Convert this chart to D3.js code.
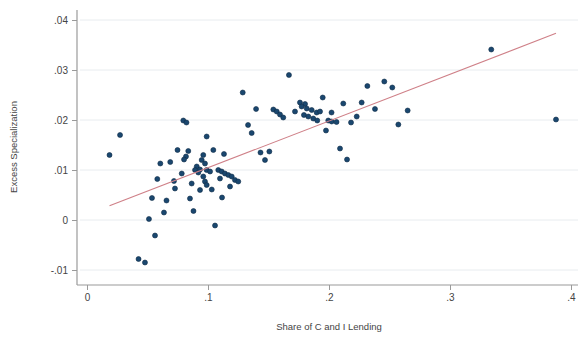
<!DOCTYPE html>
<html>
<head>
<meta charset="utf-8">
<script src="https://cdn.jsdelivr.net/npm/d3@7"></script>
<style>
  body { margin: 0; background: #fff; }
  svg text { font-family: "Liberation Sans", Arial, sans-serif; fill: #444; }
</style>
</head>
<body>
<div class="chart"></div>
<script>
// share of C and I lending (x) and excess specialization (y)
const share = [0.0186, 0.0273, 0.0426, 0.0479, 0.0562, 0.0512, 0.0636, 0.0537, 0.0657, 0.0581,
  0.0606, 0.0688, 0.0719, 0.0727, 0.0748, 0.0796, 0.0822, 0.0837, 0.0818, 0.0802,
  0.0783, 0.0865, 0.0851, 0.0880, 0.0907, 0.0893, 0.0934, 0.0920, 0.0948, 0.0975,
  0.0961, 0.0989, 0.0989, 0.1017, 0.0961, 0.0975, 0.0989, 0.0934, 0.1031, 0.1044,
  0.1132, 0.1085, 0.1113, 0.1140, 0.1168, 0.1196, 0.1223, 0.1250, 0.1099, 0.1182,
  0.1116, 0.1058, 0.1287, 0.1397, 0.1331, 0.1361, 0.1434, 0.1507, 0.1471, 0.1669,
  0.1540, 0.1568, 0.1595, 0.1622, 0.1760, 0.1802, 0.1774, 0.1816, 0.1857, 0.1898,
  0.1926, 0.1719, 0.1793, 0.1829, 0.1870, 0.1903, 0.1948, 0.2021, 0.1994, 0.2022,
  0.2062, 0.1975, 0.2091, 0.2149, 0.2118, 0.2317, 0.2457, 0.2523, 0.2270, 0.2380,
  0.2650, 0.2229, 0.2182, 0.2573, 0.3341, 0.3876];
const excess = [0.0130, 0.0170, -0.0078, -0.0085, -0.0031, 0.0002, 0.0015, 0.0044, 0.0039, 0.0082,
  0.0113, 0.0116, 0.0078, 0.0063, 0.0140, 0.0199, 0.0195, 0.0138, 0.0127, 0.0121,
  0.0093, 0.0073, 0.0043, 0.0018, 0.0107, 0.0100, 0.0101, 0.0095, 0.0120, 0.0113,
  0.0130, 0.0167, 0.0100, 0.0097, 0.0087, 0.0077, 0.0070, 0.0060, 0.0061, 0.0140,
  0.0132, 0.0100, 0.0097, 0.0093, 0.0090, 0.0087, 0.0080, 0.0077, 0.0083, 0.0067,
  0.0045, -0.0011, 0.0255, 0.0222, 0.0190, 0.0174, 0.0135, 0.0137, 0.0120, 0.0290,
  0.0221, 0.0217, 0.0211, 0.0205, 0.0235, 0.0232, 0.0227, 0.0223, 0.0220, 0.0215,
  0.0217, 0.0217, 0.0210, 0.0207, 0.0203, 0.0199, 0.0245, 0.0215, 0.0199, 0.0197,
  0.0196, 0.0179, 0.0143, 0.0121, 0.0233, 0.0268, 0.0277, 0.0265, 0.0235, 0.0222,
  0.0219, 0.0207, 0.0195, 0.0191, 0.0341, 0.0201];

// linear fit as shown in the picture (intercept, slope)
const fitIntercept = 0.0011;
const fitSlope = 0.0935;

const xTicks = [0, 0.1, 0.2, 0.3, 0.4];
const xTickLabels = ["0", ".1", ".2", ".3", ".4"];
const yTicks = [-0.01, 0, 0.01, 0.02, 0.03, 0.04];
const yTickLabels = ["-.01", "0", ".01", ".02", ".03", ".04"];

const data = share.map((s, i) => ({x: s, y: excess[i]}));

const width = 578;
const height = 337;
const svg = d3.select('.chart')
  .append('svg')
  .attr('width', width)
  .attr('height', height);

const x = d3.scaleLinear().domain([0, 0.4]).range([87, 571]);
const y = d3.scaleLinear().domain([-0.01, 0.04]).range([270, 20]);

// gridlines
svg.selectAll("line.grid")
  .data(yTicks)
  .enter()
  .append("line")
  .attr("x1", 80)
  .attr("x2", 578)
  .attr("y1", d => y(d))
  .attr("y2", d => y(d))
  .attr("stroke", "#e8ecef")
  .attr("stroke-width", 1);

// axes
const yAxis = d3.axisLeft(y)
  .tickValues(yTicks)
  .tickFormat((d, i) => yTickLabels[i])
  .tickSize(5)
  .tickPadding(4);
const xAxis = d3.axisBottom(x)
  .tickValues(xTicks)
  .tickFormat((d, i) => xTickLabels[i])
  .tickSize(5)
  .tickPadding(4);

const gy = svg.append("g").attr("transform", "translate(77,0)").call(yAxis);
const gx = svg.append("g").attr("transform", "translate(0,285)").call(xAxis);
gy.select(".domain").attr("d", "M0,10V285");
gx.select(".domain").attr("d", "M77,0H578");
svg.selectAll(".domain").attr("stroke", "#9a9a9a").attr("stroke-width", 1.2);
svg.selectAll(".tick line").attr("stroke", "#9a9a9a");
svg.selectAll(".tick text").attr("font-size", 10).attr("fill", "#444")
  .attr("font-family", '"Liberation Sans", Arial, sans-serif');

const ext = d3.extent(data, d => d.x);

svg.selectAll("circle")
  .data(data)
  .enter()
  .append("circle")
  .attr("cx", d => x(d.x))
  .attr("cy", d => y(d.y))
  .attr("r", 2.5)
  .attr("fill", "#1a476f")
  .attr("stroke", "#0f2c47")
  .attr("stroke-width", 0.6);

svg.append("line")
  .attr("x1", x(ext[0]))
  .attr("y1", y(fitIntercept + fitSlope * ext[0]))
  .attr("x2", x(ext[1]))
  .attr("y2", y(fitIntercept + fitSlope * ext[1]))
  .attr("stroke", "#cf8088")
  .attr("stroke-width", 1.1);

// titles
svg.append("text")
  .text("Excess Specialization")
  .attr("transform", "translate(17,147) rotate(-90)")
  .attr("text-anchor", "middle")
  .attr("font-size", 9.5);

svg.append("text")
  .text("Share of C and I Lending")
  .attr("x", 329)
  .attr("y", 330)
  .attr("text-anchor", "middle")
  .attr("font-size", 9.5);
</script>
</body>
</html>
